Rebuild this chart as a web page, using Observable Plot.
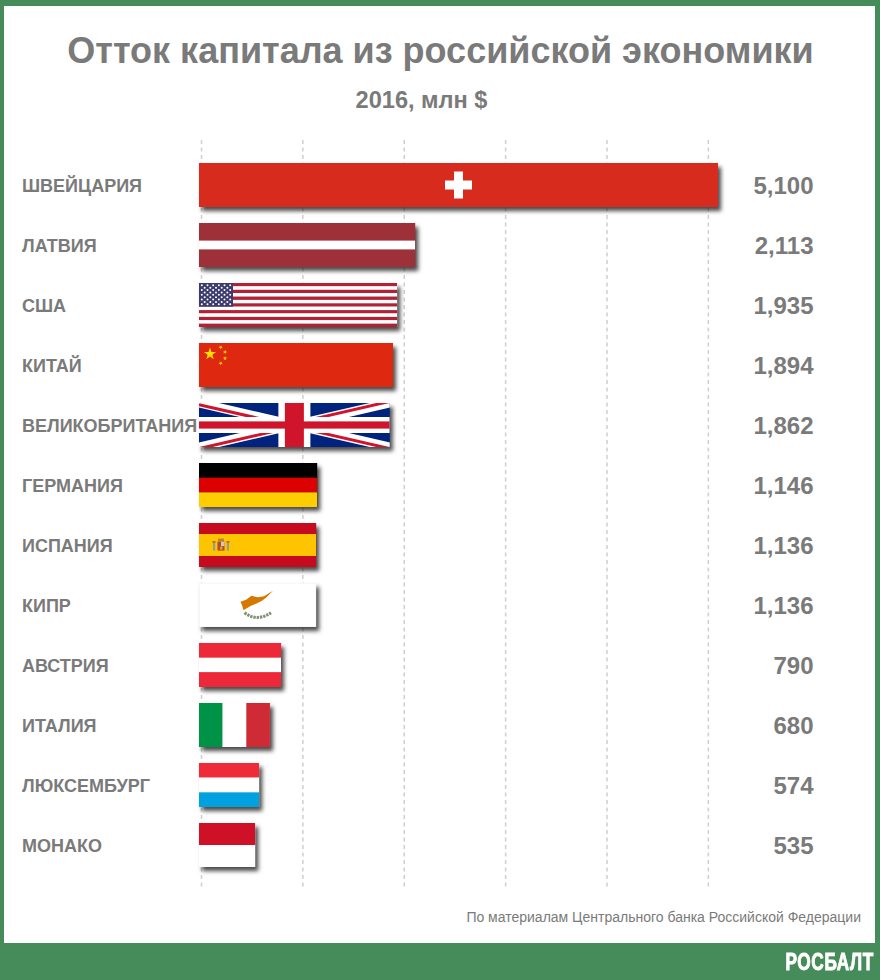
<!DOCTYPE html>
<html lang="ru"><head><meta charset="utf-8">
<script src="https://cdn.jsdelivr.net/npm/d3@7"></script>
<script src="https://cdn.jsdelivr.net/npm/@observablehq/plot@0.6"></script>
<style>
html,body{margin:0;padding:0;background:#468c5a;}
#page{position:relative;width:880px;height:980px;background:#468c5a;overflow:hidden;font-family:"Liberation Sans",Arial,sans-serif;color:#7a7a7a;}
#panel{position:absolute;left:4px;top:6px;width:871px;height:937px;background:#fff;}
#title{position:absolute;left:0;top:29px;width:881px;text-align:center;font-size:36px;font-weight:bold;line-height:44px;}
#sub{position:absolute;left:0;top:85px;width:843px;text-align:center;font-size:23.6px;font-weight:bold;line-height:30px;}
#chart{position:absolute;left:0;top:130px;}
#note{position:absolute;right:19px;top:909px;font-size:14px;line-height:17px;}
#brand{position:absolute;right:6px;top:948px;font-weight:bold;font-size:23px;line-height:28px;color:#fff;letter-spacing:.8px;-webkit-text-stroke:.9px #fff;transform:scaleX(.75);transform-origin:right center;}
</style></head><body>
<div id="page">
  <div id="panel"></div>
  <div id="title">Отток капитала из российской экономики</div>
  <div id="sub">2016, млн $</div>
  <div id="chart"></div>
  <div id="note">По материалам Центрального банка Российской Федерации</div>
  <div id="brand">РОСБАЛТ</div>
</div>
<script>
const countries = ["ШВЕЙЦАРИЯ","ЛАТВИЯ","США","КИТАЙ","ВЕЛИКОБРИТАНИЯ","ГЕРМАНИЯ","ИСПАНИЯ","КИПР","АВСТРИЯ","ИТАЛИЯ","ЛЮКСЕМБУРГ","МОНАКО"];
const values = [5100,2113,1935,1894,1862,1146,1136,1136,790,680,574,535];
const baseColors = ["#d62b1d","#9e3039","#ffffff","#de2910","#00247d","#000000","#c60b1e","#ffffff","#ed2939","#ffffff","#ffffff","#ffffff"];
const gridTicks = [0,1000,2000,3000,4000,5000];
const table = countries.map((name,i)=>({name,value:values[i],base:baseColors[i]}));

// Flag artwork, drawn inside each bar's own rectangle (w × h come from the scales).
const rect=(x,y,w,h,f)=>`<rect x="${x}" y="${y}" width="${w}" height="${h}" fill="${f}"/>`;
const hStripes=(w,h,cols)=>cols.map((c,i)=>rect(0,h*i/cols.length,w,h/cols.length+.02,c)).join("");
const vStripes=(w,h,cols)=>cols.map((c,i)=>rect(w*i/cols.length,0,w/cols.length+.02,h,c)).join("");
const star=(cx,cy,r,f,rot=0)=>{let p=[];for(let i=0;i<10;i++){const a=-Math.PI/2+rot+i*Math.PI/5,q=i%2?r*.382:r;p.push((cx+q*Math.cos(a)).toFixed(2)+","+(cy+q*Math.sin(a)).toFixed(2));}return `<polygon points="${p.join(" ")}" fill="${f}"/>`;};
const flags={
 "ШВЕЙЦАРИЯ":(w,h)=>rect(w/2-13.5,h/2-4.5,27,9,"#fff")+rect(w/2-4.5,h/2-13.5,9,27,"#fff"),
 "ЛАТВИЯ":(w,h)=>rect(0,h*.4,w,h*.2,"#fff"),
 "США":(w,h)=>{let s="";for(let i=0;i<13;i++)s+=rect(0,h*i/13,w,h/13+.02,i%2?"#fff":"#b22234");
   const cw=34,ch=h*7/13;s+=rect(0,0,cw,ch,"#3c3b6e");
   for(let r=0;r<9;r++){const n=r%2?5:6;for(let c=0;c<n;c++){s+=`<circle cx="${(cw/12*(2*c+1+(r%2))).toFixed(2)}" cy="${(ch/10*(r+1)).toFixed(2)}" r="1" fill="#fff"/>`;}}
   return s;},
 "КИТАЙ":(w,h)=>star(11,11,6.4,"#ffde00")+star(21.7,4.3,2.3,"#ffde00",.7)+star(26,9,2.3,"#ffde00",.3)+star(26,15.3,2.3,"#ffde00",0)+star(21.7,20.3,2.3,"#ffde00",.7),
 "ВЕЛИКОБРИТАНИЯ":(w,h)=>{const cx=w/2,cy=h/2,ln=(x1,y1,x2,y2,c,sw)=>`<line x1="${x1}" y1="${y1}" x2="${x2}" y2="${y2}" stroke="${c}" stroke-width="${sw}"/>`;
   return ln(0,0,w,h,"#fff",9)+ln(w,0,0,h,"#fff",9)
     +ln(0,1.6,cx,cy+1.6,"#cf142b",3)+ln(w,-1.6,cx,cy-1.6,"#cf142b",3)
     +ln(0,h+1.6,cx,cy+1.6,"#cf142b",3)+ln(w,h+1.6,cx,cy+1.6,"#cf142b",3)
     +rect(cx-16,0,32,h,"#fff")+rect(0,cy-8,w,16,"#fff")
     +rect(cx-9.5,0,19,h,"#cf142b")+rect(0,cy-3.6,w,7.2,"#cf142b");},
 "ГЕРМАНИЯ":(w,h)=>hStripes(w,h,["#000","#dd0000","#ffce00"]),
 "ИСПАНИЯ":(w,h)=>rect(0,h*.25,w,h*.5,"#ffc400")+`<g transform="translate(22,22.6)">`
     +rect(-3.5,-4,7,9,"#b5472a")+rect(0,-4,3.5,4.5,"#cfc8c0")+rect(-1,1,2.5,3,"#d9a23a")
     +rect(-3,-7,6,3,"#b8862c")+rect(-8,-3,2.2,8,"#9a9a9a")+rect(5.8,-3,2.2,8,"#9a9a9a")
     +rect(-8.5,-4.5,3,1.6,"#a5692a")+rect(5.5,-4.5,3,1.6,"#a5692a")+`</g>`,
 "КИПР":(w,h)=>`<rect x=".25" y=".25" width="${w-.5}" height="${h-.5}" fill="#fff" stroke="#f0f0f0" stroke-width=".5"/>`
     +`<g transform="translate(59,19.2)"><path d="M-17.5,-.5 L-12,-2.5 L-6.5,-6.5 L-.5,-5 L6,-6 L15,-11.5 L8,-4.5 L4,-1.5 L-2,1.5 L-7,3.5 L-14.5,8 L-16,3 Z" fill="#d57800"/>`
     +`<path d="M-13.5,10.5 Q-1,20 13,10.5" fill="none" stroke="#7f9070" stroke-width="3" stroke-dasharray="2.4 .9"/></g>`,
 "АВСТРИЯ":(w,h)=>hStripes(w,h,["#ed2939","#fff","#ed2939"]),
 "ИТАЛИЯ":(w,h)=>vStripes(w,h,["#009246","#fff","#ce2b37"]),
 "ЛЮКСЕМБУРГ":(w,h)=>hStripes(w,h,["#ef2b3a","#fff","#00a1de"]),
 "МОНАКО":(w,h)=>hStripes(w,h,["#ce1126","#fff"])
};

function flagRender(index,scales,vals,dims,context,next){
  const g=next(index,scales,vals,dims,context);
  g.style.filter="drop-shadow(3.5px 4px 2.2px rgba(30,30,30,.8))";
  const rects=Array.from(g.querySelectorAll("rect"));
  rects.forEach((r,j)=>{
    const d=table[index[j]];
    const x=+r.getAttribute("x"),y=+r.getAttribute("y"),w=+r.getAttribute("width"),h=+r.getAttribute("height");
    const ns="http://www.w3.org/2000/svg";
    const s=document.createElementNS(ns,"svg");
    s.setAttribute("x",x);s.setAttribute("y",y);s.setAttribute("width",w);s.setAttribute("height",h);
    s.setAttribute("viewBox",`0 0 ${w} ${h}`);
    s.innerHTML=flags[d.name](w,h);
    g.appendChild(s);
  });
  return g;
}

const chart=Plot.plot({
  width:880,height:770,
  marginLeft:201,marginRight:162,marginTop:10,marginBottom:10,
  style:{background:"transparent",fontFamily:'"Liberation Sans",Arial,sans-serif',overflow:"visible"},
  x:{domain:[0,5100],axis:null},
  y:{domain:countries,range:[25,745],paddingInner:16/60,paddingOuter:8/60,round:false,axis:null},
  marks:[
    Plot.ruleX(gridTicks,{stroke:"#cfcfcf",strokeWidth:1.5,strokeDasharray:"4,3.5"}),
    Plot.axisY(countries,{anchor:"left",tickSize:0,tickPadding:0,textAnchor:"start",dx:-179.5,dy:1,fontSize:18,fontWeight:"bold",fill:"#7a7a7a",label:null}),
    Plot.barX(table,{x:"value",y:"name",fill:"base",insetLeft:-2,render:flagRender}),
    Plot.text(table,{frameAnchor:"right",y:"name",dx:95,dy:1,text:d=>d3.format(",")(d.value),textAnchor:"end",fontSize:24,fontWeight:"bold",fill:"#7a7a7a"})
  ]
});
document.getElementById("chart").appendChild(chart);
</script>
</body></html>
